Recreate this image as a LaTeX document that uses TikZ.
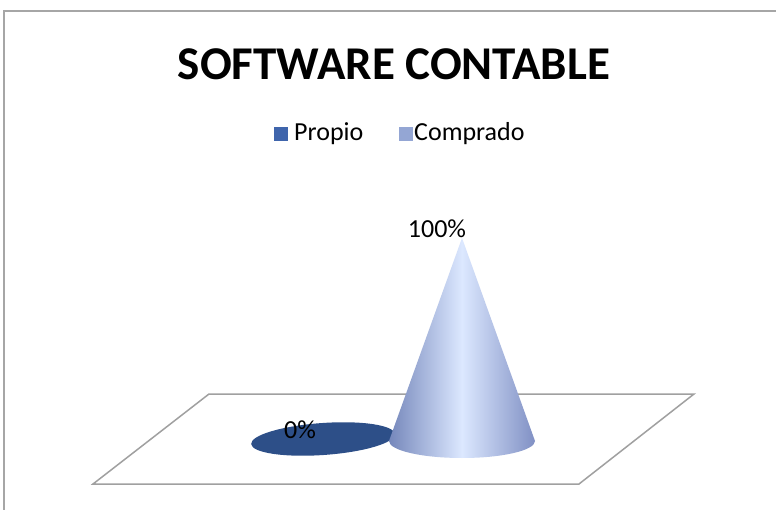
\documentclass[tikz,border=0pt]{standalone}
\usepackage{fontspec}
\setmainfont{Carlito}
\definecolor{frameg}{HTML}{A6A6A6}
\definecolor{floorg}{HTML}{A0A0A0}
\definecolor{propio}{HTML}{3F65AC}
\definecolor{comprado}{HTML}{94A6D4}
\definecolor{darkell}{HTML}{2D4F88}
\definecolor{coneL}{HTML}{7587BB}
\definecolor{coneM}{HTML}{DCE8FF}
\definecolor{coneR}{HTML}{8090C4}
\tikzset{
  lbl/.style={inner sep=0pt, font=\fontsize{26}{30}\selectfont},
  legsq/.style={minimum width=14pt, minimum height=14pt, inner sep=0pt}
}
\begin{document}
\begin{tikzpicture}[x=1pt,y=-1pt]
\useasboundingbox (0,0) rectangle (776,510);
\fill[white] (0,0) rectangle (776,510);
% chart frame
\draw[frameg, line width=1.5pt] (4,510) -- (4,11) -- (776,11);
% title
\node[inner sep=0pt, font=\bfseries\fontsize{47}{52}\selectfont] (title) at (394,64) {SOFTWARE CONTABLE};
% legend
\node[legsq, fill=propio] (sq1) at (281,134) {};
\node[lbl, anchor=west] (leg1) at (294,134) {Propio};
\node[legsq, fill=comprado] (sq2) at (406,134) {};
\node[lbl, anchor=west] (leg2) at (414,134) {Comprado};
% floor
\draw[floorg, line width=1.5pt] (209,394) -- (694,394) -- (579,484) -- (93,484) -- cycle;
% dark ellipse (0%)
\fill[darkell, rotate around={4:(323,439)}] (323,439) ellipse [x radius=72, y radius=16];
% cone
\shade[left color=coneL, right color=coneR, middle color=coneM]
  (462,238) -- (389,441) arc[start angle=180, end angle=0, x radius=73, y radius=17] -- cycle;
% labels
\node[lbl] (p0) at (300,430) {0\%};
\node[lbl] (p100) at (437,229) {100\%};
\end{tikzpicture}
\end{document}
